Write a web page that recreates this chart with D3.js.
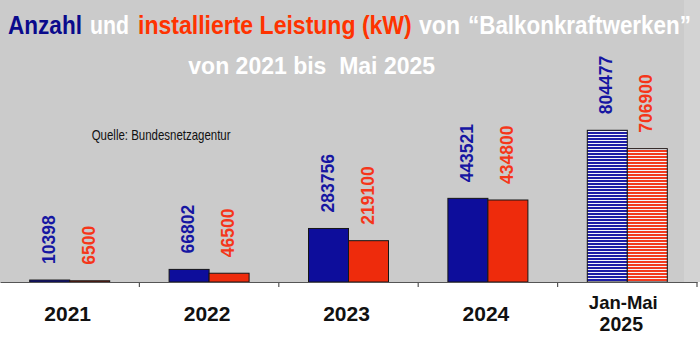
<!DOCTYPE html>
<html>
<head>
<meta charset="utf-8">
<script src="https://cdn.jsdelivr.net/npm/d3@7"></script>
<style>
  html, body { margin: 0; padding: 0; background: #ffffff; }
  svg { display: block; }
  text { font-family: "Liberation Sans", Arial, sans-serif; }
</style>
</head>
<body>
<svg id="chart" width="700" height="341"></svg>
<script>
// Balkonkraftwerke: count of units and installed power (kW), 2021 – May 2025
const categories = ["2021", "2022", "2023", "2024", "Jan-Mai 2025"];
const tickLabels = [["2021"], ["2022"], ["2023"], ["2024"], ["Jan-Mai", "2025"]];
const anzahl = [10398, 66802, 283756, 443521, 804477];
const leistung = [6500, 46500, 219100, 434800, 706900];
const seriesNames = ["Anzahl", "Leistung"];
const partialYear = "Jan-Mai 2025";

// title pieces: text, colour, left edge, width
const titleParts = [
  { text: "Anzahl", fill: "#0a0a8c", x: 8, w: 74 },
  { text: "und", fill: "#ffffff", x: 90, w: 39 },
  { text: "installierte Leistung (kW)", fill: "#ff3300", x: 138, w: 274 },
  { text: "von", fill: "#ffffff", x: 419, w: 41 },
  { text: "\u201CBalkonkraftwerken\u201D", fill: "#ffffff", x: 468, w: 223 }
];

const W = 700, H = 341;
const axisY = 282;
const svg = d3.select("#chart");
const narrow = '"Liberation Sans Narrow", "Arial Narrow", "Liberation Sans", sans-serif';

// squeeze a text horizontally so that it spans exactly `w` pixels from `x`
function fitWidth(sel, x, yPos, w) {
  const natural = sel.node().getComputedTextLength();
  const sx = natural > 0 ? w / natural : 1;
  sel.attr("x", 0).attr("y", 0)
    .attr("transform", `translate(${x},${yPos}) scale(${sx},1)`);
}

const colors = {
  Anzahl: { bar: "#0d0d9b", label: "#1616a2", stripe: "#1c1ca6" },
  Leistung: { bar: "#ee2b0c", label: "#f5361a", stripe: "#f23a1e" }
};

// stripe patterns for the incomplete year
const defs = svg.append("defs");
seriesNames.forEach(name => {
  const p = defs.append("pattern")
    .attr("id", "stripe-" + name)
    .attr("patternUnits", "userSpaceOnUse")
    .attr("width", 6).attr("height", 3);
  p.append("rect").attr("width", 6).attr("height", 3).attr("fill", "#f4f4fa");
  p.append("rect").attr("y", 0).attr("width", 6).attr("height", 2)
    .attr("fill", colors[name].stripe);
});

// background: grey plotting area above the axis, white below
svg.append("rect").attr("x", 0).attr("y", 0).attr("width", W).attr("height", axisY)
  .attr("fill", "#cbcbcb");
svg.append("rect").attr("x", 684).attr("y", 0).attr("width", W - 684).attr("height", axisY)
  .attr("fill", "#d3d3d3");

// scales
const x0 = d3.scaleBand().domain(categories).range([0, 697]).padding(0);
const groupW = 80;
const x1 = d3.scaleBand().domain(seriesNames).range([0, groupW]).padding(0);
const y = d3.scaleLinear().domain([0, 1000000]).range([axisY, 93.4]);

const rows = categories.map((c, i) => ({ cat: c, Anzahl: anzahl[i], Leistung: leistung[i] }));

// bars
const groups = svg.append("g").selectAll("g")
  .data(rows).join("g")
  .attr("transform", d => `translate(${x0(d.cat) + (x0.bandwidth() - groupW) / 2},0)`);

groups.selectAll("rect")
  .data(d => seriesNames.map(s => ({ s, v: d[s], cat: d.cat })))
  .join("rect")
  .attr("x", d => x1(d.s))
  .attr("y", d => y(d.v))
  .attr("width", x1.bandwidth())
  .attr("height", d => axisY - y(d.v))
  .attr("fill", d => d.cat === partialYear ? `url(#stripe-${d.s})` : colors[d.s].bar)
  .attr("stroke", "#161616")
  .attr("stroke-width", 1);

// rotated value labels above each bar
groups.selectAll("text.val")
  .data(d => seriesNames.map(s => ({ s, v: d[s] })))
  .join("text")
  .attr("class", "val")
  .attr("transform", d => `translate(${x1(d.s) + x1.bandwidth() / 2 + 5},${y(d.v) - 16}) rotate(-90)`)
  .attr("text-anchor", "start")
  .attr("font-size", 17.5)
  .attr("font-weight", "bold")
  .attr("fill", d => colors[d.s].label)
  .text(d => d.v);

// x axis
const xAxis = d3.axisBottom(x0).tickSize(0).tickSizeOuter(0).tickFormat(() => "");
const axisG = svg.append("g").attr("transform", `translate(0,${axisY})`).call(xAxis);
axisG.select(".domain").attr("stroke", "#555").attr("stroke-width", 1.2);

// separators between categories
svg.append("g").selectAll("line")
  .data(categories)
  .join("line")
  .attr("x1", d => x0(d) + x0.bandwidth())
  .attr("x2", d => x0(d) + x0.bandwidth())
  .attr("y1", axisY)
  .attr("y2", axisY + 5)
  .attr("stroke", "#555")
  .attr("stroke-width", 1.2);

// category labels
const lab = svg.append("g").selectAll("text")
  .data(categories.map((c, i) => ({ c, lines: tickLabels[i] })))
  .join("text")
  .attr("text-anchor", "middle")
  .attr("font-weight", "bold")
  .attr("fill", "#111");
lab.each(function (d) {
  const t = d3.select(this);
  const cx = x0(d.c) + x0.bandwidth() / 2 - 2;
  if (d.lines.length === 1) {
    t.append("tspan").attr("x", cx).attr("y", 321).attr("font-size", 21).text(d.lines[0]);
  } else {
    t.append("tspan").attr("x", cx - 2).attr("y", 308.5).attr("font-size", 18.5).text(d.lines[0]);
    t.append("tspan").attr("x", cx - 4).attr("y", 331).attr("font-size", 19.5).text(d.lines[1]);
  }
});

// title, one piece per colour
svg.append("g").selectAll("text")
  .data(titleParts)
  .join("text")
  .attr("font-size", 26)
  .attr("font-weight", "bold")
  .attr("fill", d => d.fill)
  .style("font-family", narrow)
  .text(d => d.text)
  .each(function (d) { fitWidth(d3.select(this), d.x, 34.3, d.w); });

svg.append("text")
  .attr("x", 311.7).attr("y", 74)
  .attr("text-anchor", "middle")
  .attr("font-size", 23)
  .attr("font-weight", "bold")
  .attr("fill", "#ffffff")
  .style("white-space", "pre")
  .text("von 2021 bis  Mai 2025");

const source = svg.append("text")
  .attr("font-size", 14)
  .style("font-family", narrow)
  .attr("fill", "#111")
  .text("Quelle: Bundesnetzagentur");
fitWidth(source, 91.7, 140, 139);
</script>
</body>
</html>
